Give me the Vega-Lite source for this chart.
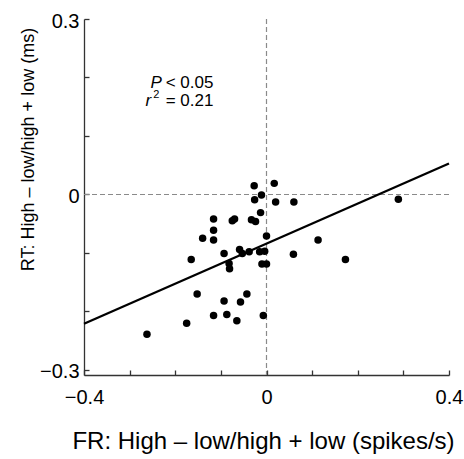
{
  "$schema": "https://vega.github.io/schema/vega-lite/v6.json",
  "width": 365,
  "height": 356,
  "autosize": {"type": "none"},
  "padding": {"left": 84, "top": 19, "right": 15, "bottom": 84},
  "background": "white",
  "config": {"view": {"stroke": null}, "font": "Liberation Sans"},
  "datasets": {
    "points": [
      {"x": -0.027, "y": 0.015}, {"x": 0.017, "y": 0.019}, {"x": -0.011, "y": -0.001},
      {"x": -0.026, "y": -0.009}, {"x": 0.020, "y": -0.013}, {"x": 0.060, "y": -0.013},
      {"x": 0.289, "y": -0.008}, {"x": -0.013, "y": -0.031}, {"x": -0.116, "y": -0.042},
      {"x": -0.075, "y": -0.045}, {"x": -0.070, "y": -0.042}, {"x": -0.033, "y": -0.043},
      {"x": -0.024, "y": -0.046}, {"x": -0.116, "y": -0.061}, {"x": 0.000, "y": -0.071},
      {"x": -0.140, "y": -0.075}, {"x": -0.116, "y": -0.078}, {"x": 0.113, "y": -0.078},
      {"x": -0.059, "y": -0.094}, {"x": -0.093, "y": -0.101}, {"x": -0.053, "y": -0.101},
      {"x": -0.038, "y": -0.098}, {"x": -0.015, "y": -0.098}, {"x": -0.004, "y": -0.097},
      {"x": 0.059, "y": -0.102}, {"x": -0.165, "y": -0.111}, {"x": 0.173, "y": -0.111},
      {"x": -0.082, "y": -0.118}, {"x": -0.081, "y": -0.127}, {"x": -0.010, "y": -0.119},
      {"x": 0.000, "y": -0.119}, {"x": -0.152, "y": -0.170}, {"x": -0.043, "y": -0.170},
      {"x": -0.093, "y": -0.182}, {"x": -0.057, "y": -0.184}, {"x": -0.116, "y": -0.207},
      {"x": -0.087, "y": -0.205}, {"x": -0.007, "y": -0.207}, {"x": -0.175, "y": -0.220},
      {"x": -0.065, "y": -0.216}, {"x": -0.262, "y": -0.239}
    ],
    "fit": [{"x": -0.4, "y": -0.221}, {"x": 0.4, "y": 0.053}],
    "italic": [{"x": -0.2296, "y": 0.1819, "t": "P"}, {"x": -0.2527, "y": 0.1521, "t": "r"}],
    "normal": [{"x": -0.2209, "y": 0.1819, "t": "< 0.05"}, {"x": -0.2209, "y": 0.1521, "t": "= 0.21"}],
    "sup": [{"x": -0.2483, "y": 0.1648, "t": "2"}]
  },
  "layer": [
    {
      "data": {"values": [{"x": 0}]},
      "mark": {"type": "rule", "strokeDash": [5, 3], "color": "#8a8a8a", "strokeWidth": 1.2},
      "encoding": {"x": {"field": "x", "type": "quantitative"}}
    },
    {
      "data": {"values": [{"y": 0}]},
      "mark": {"type": "rule", "strokeDash": [5, 3], "color": "#8a8a8a", "strokeWidth": 1.2},
      "encoding": {"y": {"field": "y", "type": "quantitative"}}
    },
    {
      "data": {"name": "points"},
      "mark": {"type": "circle", "size": 56, "color": "black", "opacity": 1},
      "encoding": {
        "x": {
          "field": "x", "type": "quantitative",
          "scale": {"domain": [-0.4, 0.4], "nice": false, "zero": false},
          "axis": {
            "title": "FR: High – low/high + low (spikes/s)",
            "values": [-0.4, -0.3, -0.2, -0.1, 0, 0.1, 0.2, 0.3, 0.4],
            "labelExpr": "abs(datum.value) < 1e-6 ? '0' : (abs(datum.value) > 0.39 ? format(datum.value, '.1f') : '')",
            "grid": false, "domainColor": "#333", "domainWidth": 1.3,
            "tickColor": "#333", "tickWidth": 1.3, "tickSize": -5,
            "labelFontSize": 20, "labelColor": "black", "labelFont": "Liberation Sans",
            "labelBaseline": "alphabetic", "labelPadding": 33, "labelFlush": false, "labelOverlap": false,
            "titleFont": "Liberation Sans", "titleFontSize": 24, "titleFontWeight": "normal", "titleColor": "black",
            "titleX": 179, "titleY": 73, "titleBaseline": "alphabetic", "titleAlign": "center"
          }
        },
        "y": {
          "field": "y", "type": "quantitative",
          "scale": {"domain": [-0.3086, 0.3], "nice": false, "zero": false},
          "axis": {
            "title": "RT: High – low/high + low (ms)",
            "values": [-0.3, -0.2, -0.1, 0, 0.1, 0.2, 0.3],
            "labelExpr": "abs(datum.value) < 1e-6 ? '0' : (abs(datum.value) > 0.29 ? format(datum.value, '.1f') : '')",
            "grid": false, "domainColor": "#333", "domainWidth": 1.3,
            "tickColor": "#333", "tickWidth": 1.3, "tickSize": -5,
            "labelFontSize": 20, "labelColor": "black", "labelFont": "Liberation Sans",
            "labelBaseline": "middle", "labelPadding": 10, "labelOffset": 2, "labelFlush": false, "labelOverlap": false,
            "titleFont": "Liberation Sans", "titleFontSize": 18, "titleFontWeight": "normal", "titleColor": "black",
            "titleX": -55.5, "titleY": 130, "titleBaseline": "middle", "titleAlign": "center", "titleAngle": -90
          }
        }
      }
    },
    {
      "data": {"name": "fit"},
      "mark": {"type": "line", "color": "black", "strokeWidth": 2.3},
      "encoding": {
        "x": {"field": "x", "type": "quantitative"},
        "y": {"field": "y", "type": "quantitative"}
      }
    },
    {
      "data": {"name": "italic"},
      "mark": {"type": "text", "align": "right", "baseline": "alphabetic", "fontSize": 17, "fontStyle": "italic", "font": "Liberation Sans", "color": "black"},
      "encoding": {
        "x": {"field": "x", "type": "quantitative"},
        "y": {"field": "y", "type": "quantitative"},
        "text": {"field": "t"}
      }
    },
    {
      "data": {"name": "normal"},
      "mark": {"type": "text", "align": "left", "baseline": "alphabetic", "fontSize": 17, "font": "Liberation Sans", "color": "black"},
      "encoding": {
        "x": {"field": "x", "type": "quantitative"},
        "y": {"field": "y", "type": "quantitative"},
        "text": {"field": "t"}
      }
    },
    {
      "data": {"name": "sup"},
      "mark": {"type": "text", "align": "left", "baseline": "alphabetic", "fontSize": 11, "font": "Liberation Sans", "color": "black"},
      "encoding": {
        "x": {"field": "x", "type": "quantitative"},
        "y": {"field": "y", "type": "quantitative"},
        "text": {"field": "t"}
      }
    }
  ]
}
